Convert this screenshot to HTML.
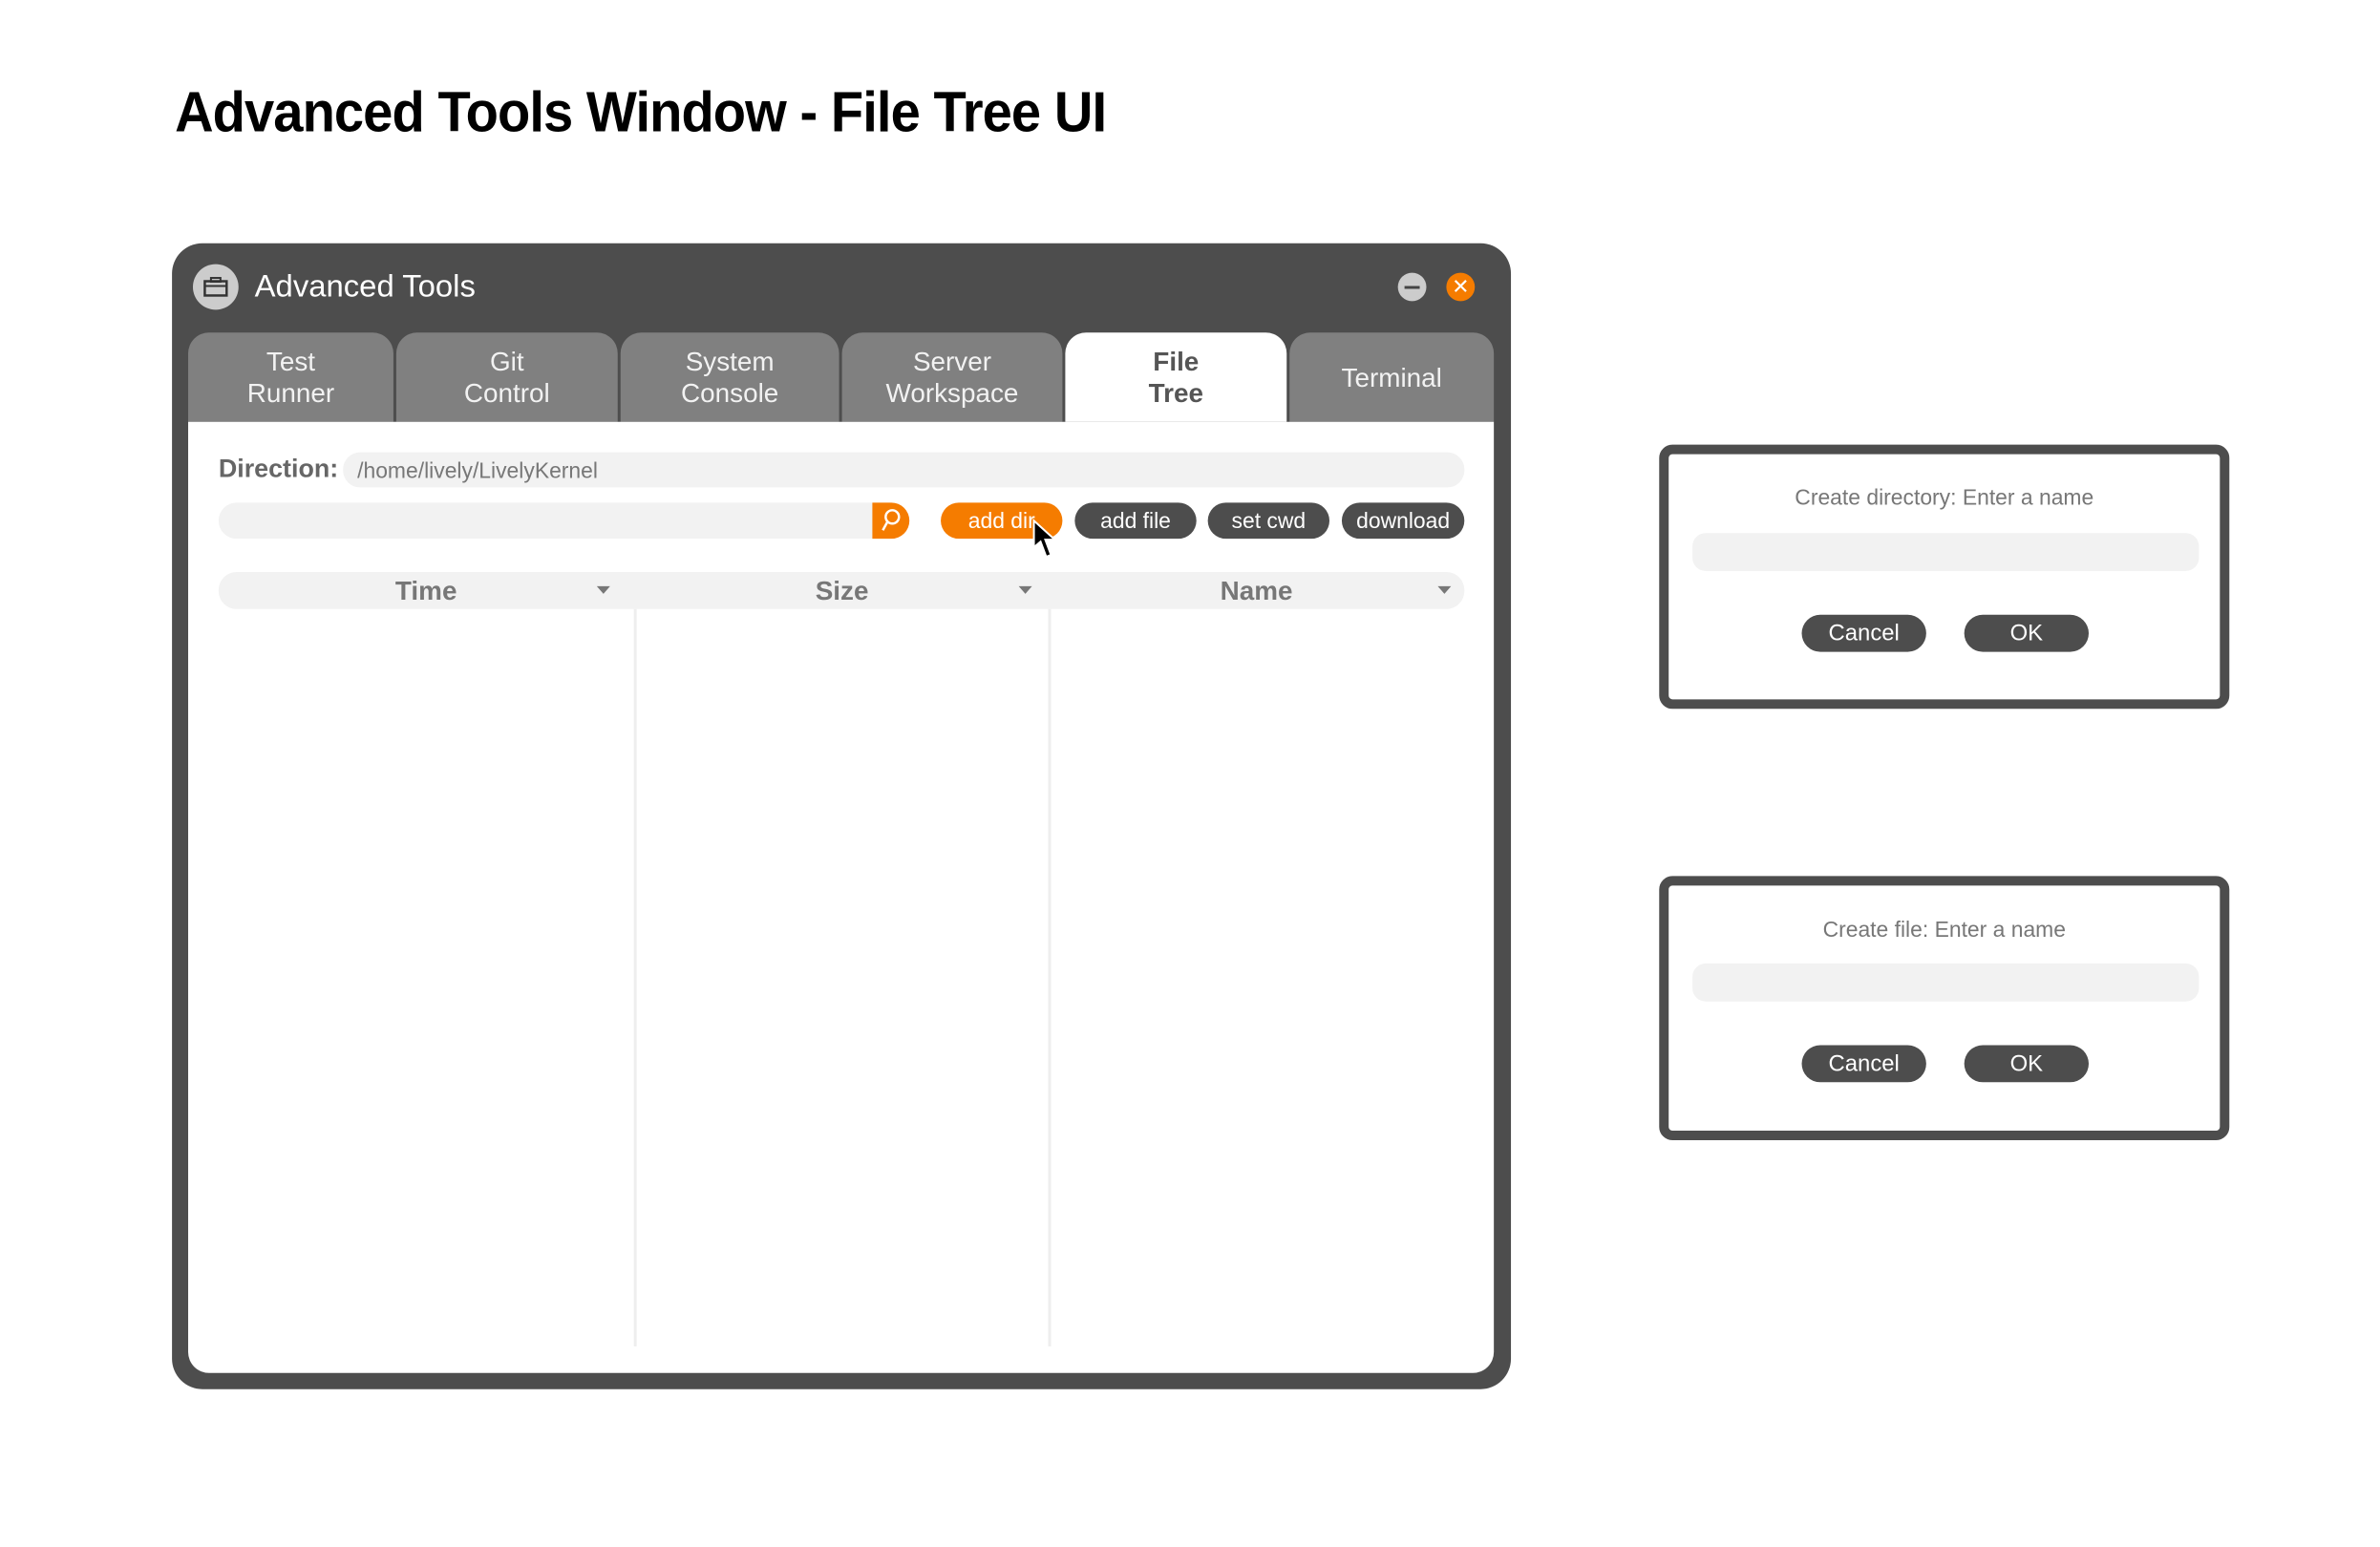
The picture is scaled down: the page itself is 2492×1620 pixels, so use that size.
<!DOCTYPE html>
<html><head><meta charset="utf-8"><style>
body{margin:0;width:2492px;height:1620px;background:#fff;position:relative;overflow:hidden;font-family:"Liberation Sans",sans-serif}
#w{position:absolute;left:0;top:0;width:2492px;height:1620px;transform:scale(0.995);transform-origin:0 0}
div,span{position:absolute;box-sizing:border-box}
.c{display:flex;align-items:center;justify-content:center}
.tab{top:350px;height:94px;background:#808080;border-radius:22px 22px 0 0;color:#f2f2f2;font-size:28px;line-height:33px;text-align:center;flex-direction:column}
.btn{top:529px;height:38px;border-radius:19px;background:#4d4d4d;color:#fff;font-size:23px}
.dlg{left:1746px;width:600px;height:278px;border:10px solid #4d4d4d;border-radius:14px;background:#fff}
.dt{left:0;width:100%;text-align:center;color:#777;font-size:23px}
.din{left:25px;width:533px;height:40px;background:#f2f2f2;border-radius:14px}
.db{width:131px;height:39px;border-radius:20px;background:#4d4d4d;color:#fff;font-size:24px}
.hd{font-size:28px;color:#777;font-weight:bold}
</style></head><body><div id="w">
<div style="left:184px;top:83px;font-size:60px;font-weight:bold;white-space:nowrap;transform:scaleX(0.94);transform-origin:left top;letter-spacing:-1px">Advanced Tools Window - File Tree UI</div>

<div style="left:181px;top:256px;width:1409px;height:1206px;background:#4d4d4d;border-radius:32px"></div>
<div class="c" style="left:203px;top:278px;width:48px;height:48px;border-radius:50%;background:#ccc">
<svg width="26" height="22" viewBox="0 0 26 22"><rect x="1.5" y="5" width="23" height="15" fill="none" stroke="#333" stroke-width="2.5"/><rect x="8" y="1.5" width="10" height="4" fill="none" stroke="#333" stroke-width="2"/><line x1="1.5" y1="10" x2="24.5" y2="10" stroke="#333" stroke-width="2"/></svg></div>
<div style="left:268px;top:282px;font-size:33px;color:#fff">Advanced Tools</div>
<div class="c" style="left:1471px;top:287px;width:30px;height:30px;border-radius:50%;background:#ccc"><span style="position:static;width:16px;height:3px;background:#444"></span></div>
<div class="c" style="left:1522px;top:287px;width:30px;height:30px;border-radius:50%;background:#f57c00;color:#fff;font-size:22px">✕</div>

<div class="tab c" style="left:198px;width:216px">Test<br>Runner</div>
<div class="tab c" style="left:417px;width:233px">Git<br>Control</div>
<div class="tab c" style="left:653px;width:230px">System<br>Console</div>
<div class="tab c" style="left:886px;width:232px">Server<br>Workspace</div>
<div class="tab c" style="left:1121px;width:233px;background:#fff;color:#555;font-weight:bold">File<br>Tree</div>
<div class="tab c" style="left:1357px;width:215px">Terminal</div>

<div style="left:198px;top:444px;width:1374px;height:1001px;background:#fff;border-radius:0 0 22px 22px"></div>
<div style="left:230px;top:478px;font-size:27px;color:#666;font-weight:bold">Direction:</div>
<div style="left:361px;top:476px;width:1180px;height:37px;background:#f2f2f2;border-radius:18px;color:#777;font-size:23px;padding:6px 15px">/home/lively/LivelyKernel</div>
<div style="left:230px;top:529px;width:725px;height:38px;background:#f2f2f2;border-radius:19px"></div>
<div class="c" style="left:918px;top:529px;width:39px;height:38px;background:#f57c00;border-radius:0 19px 19px 0"><svg width="22" height="26" viewBox="0 0 22 26"><circle cx="12" cy="9" r="7" fill="none" stroke="#fff" stroke-width="2.5"/><line x1="7" y1="14" x2="2" y2="23" stroke="#fff" stroke-width="2.5"/></svg></div>
<div class="btn c" style="left:990px;width:128px;background:#f57c00">add dir</div>
<div class="btn c" style="left:1131px;width:128px">add file</div>
<div class="btn c" style="left:1271px;width:128px">set cwd</div>
<div class="btn c" style="left:1412px;width:129px">download</div>
<svg style="position:absolute;left:1086px;top:546px" width="30" height="44" viewBox="0 0 30 44"><path d="M2 2 L2 30 L9 24 L15 40 L20 38 L14 22 L24 22 Z" fill="#000" stroke="#fff" stroke-width="2"/></svg>

<div style="left:230px;top:602px;width:1311px;height:39px;background:#f2f2f2;border-radius:19px"></div>
<div class="hd" style="left:416px;top:606px">Time</div>
<div class="hd" style="left:858px;top:606px">Size</div>
<div class="hd" style="left:1284px;top:606px">Name</div>
<div style="left:628px;top:617px;border:7px solid transparent;border-top:8px solid #777;border-bottom:0"></div>
<div style="left:1072px;top:617px;border:7px solid transparent;border-top:8px solid #777;border-bottom:0"></div>
<div style="left:1513px;top:617px;border:7px solid transparent;border-top:8px solid #777;border-bottom:0"></div>
<div style="left:667px;top:641px;width:3px;height:776px;background:#eee"></div>
<div style="left:1103px;top:641px;width:3px;height:776px;background:#eee"></div>

<div class="dlg" style="top:468px">
<div class="dt" style="top:32px">Create directory: Enter a name</div>
<div class="din" style="top:83px"></div>
<div class="db c" style="left:140px;top:169px">Cancel</div>
<div class="db c" style="left:311px;top:169px">OK</div>
</div>
<div class="dlg" style="top:922px">
<div class="dt" style="top:33px">Create file: Enter a name</div>
<div class="din" style="top:82px"></div>
<div class="db c" style="left:140px;top:168px">Cancel</div>
<div class="db c" style="left:311px;top:168px">OK</div>
</div>
</div></body></html>
